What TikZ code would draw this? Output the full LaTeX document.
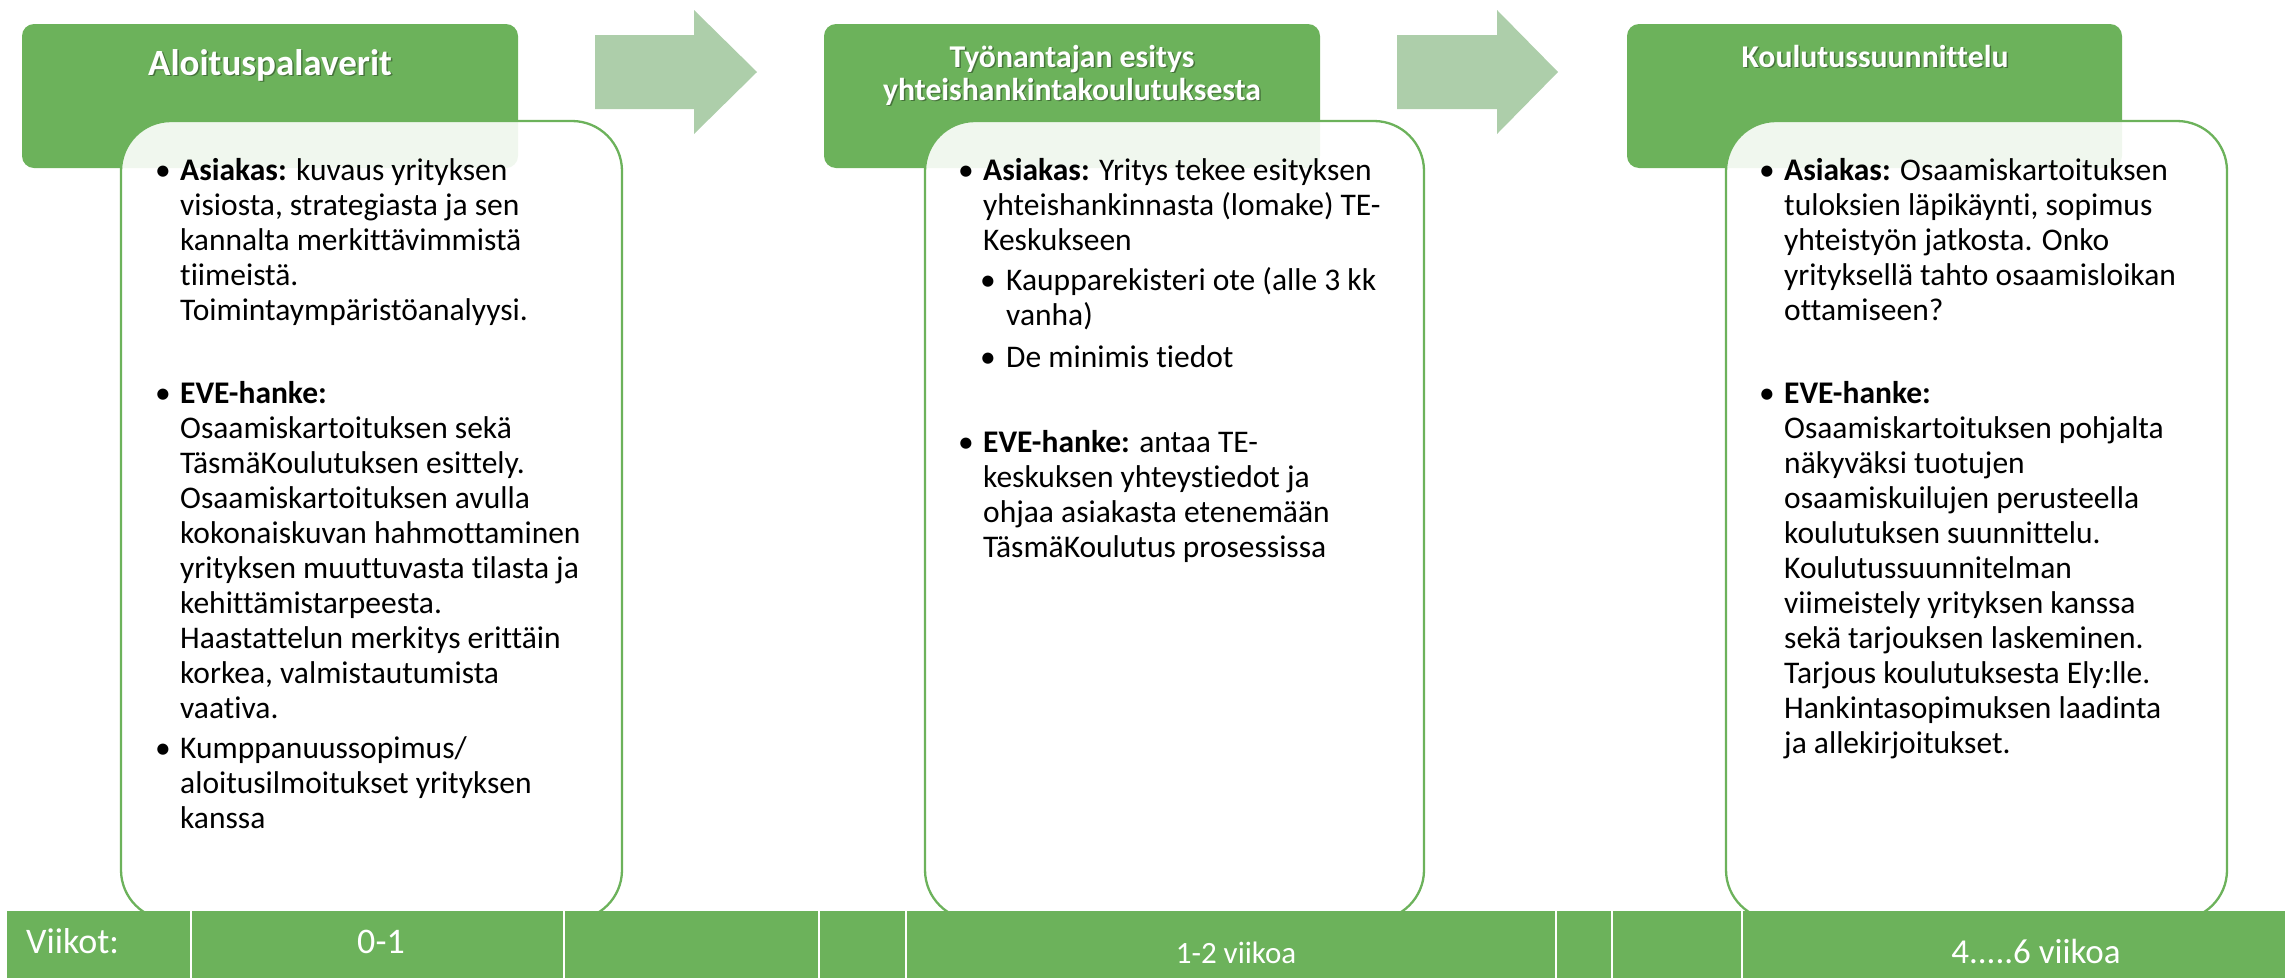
\documentclass[tikz,border=0pt]{standalone}
\usepackage{fontspec}
\setmainfont{Carlito}[Ligatures=NoCommon]
\definecolor{grn}{RGB}{108,178,91}
\definecolor{lgrn}{RGB}{173,206,170}
\newcommand{\ml}[1]{\vtop{\baselineskip=35pt\lineskiplimit=-100pt\lineskip=0pt #1}}
\tikzset{
  hdr/.style={fill=grn, rounded corners=12pt},
  card/.style={fill=white, fill opacity=0.9, draw=grn, line width=2.3pt, rounded corners=50pt},
  parr/.style={fill=lgrn},
  body/.style={anchor=base west, inner sep=0pt, font=\fontsize{31.5}{35}\selectfont},
  bul/.style={anchor=base, inner sep=0pt, font=\fontsize{31.5}{35}\selectfont},
  ttl/.style={anchor=base, inner sep=0pt, text=white, font=\bfseries\fontsize{31.7}{33}\selectfont},
  shd/.style={anchor=base, inner sep=0pt, text=black, opacity=0.35, font=\bfseries\fontsize{31.7}{33}\selectfont},
  barsep/.style={draw=white, line width=2.5pt},
  bartxt/.style={anchor=base, inner sep=0pt, text=white}
}
\begin{document}
\begin{tikzpicture}[x=1pt,y=-1pt]
\useasboundingbox (0,0) rectangle (2285,978);
% headers
\fill[hdr] (22,24) rectangle (518,168);
\fill[hdr] (824,24) rectangle (1320,168);
\fill[hdr] (1627,24) rectangle (2122,168);
% header titles
\node[shd, font=\bfseries\fontsize{37}{40}\selectfont] (t1s) at (271.5,76.5) {Aloituspalaverit};
\node[ttl, font=\bfseries\fontsize{37}{40}\selectfont] (t1) at (270,75) {Aloituspalaverit};
\node[shd] (t2as) at (1073.5,68.5) {Työnantajan esitys};
\node[ttl] (t2a) at (1072,67) {Työnantajan esitys};
\node[shd] (t2bs) at (1073.5,101.5) {yhteishankintakoulutuksesta};
\node[ttl] (t2b) at (1072,100) {yhteishankintakoulutuksesta};
\node[shd] (t3s) at (1876.5,68.5) {Koulutussuunnittelu};
\node[ttl] (t3) at (1875,67) {Koulutussuunnittelu};
% arrows
\fill[parr] (595,35) -- (694,35) -- (694,10) -- (757,72) -- (694,134) -- (694,109) -- (595,109) -- cycle;
\fill[parr] (1397,35) -- (1497,35) -- (1497,10) -- (1558,72) -- (1497,134) -- (1497,109) -- (1397,109) -- cycle;
% cards
\path[card] (121,121) rectangle (622,920);
\path[card] (925,121) rectangle (1424,920);
\path[card] (1726,121) rectangle (2227,920);
% column 1 text
\node[bul] (b11) at (163,180) {•};
\node[body] (p11) at (180,180) {\ml{\hbox{\textbf{Asiakas:} kuvaus yrityksen}\hbox{visiosta, strategiasta ja sen}\hbox{kannalta merkittävimmistä}\hbox{tiimeistä.}\hbox{Toimintaympäristöanalyysi.}}};
\node[bul] (b12) at (163,403) {•};
\node[body] (p12) at (180,403) {\ml{\hbox{\textbf{EVE-hanke:}}\hbox{Osaamiskartoituksen sekä}\hbox{TäsmäKoulutuksen esittely.}\hbox{Osaamiskartoituksen avulla}\hbox{kokonaiskuvan hahmottaminen}\hbox{yrityksen muuttuvasta tilasta ja}\hbox{kehittämistarpeesta.}\hbox{Haastattelun merkitys erittäin}\hbox{korkea, valmistautumista}\hbox{vaativa.}}};
\node[bul] (b13) at (163,758) {•};
\node[body] (p13) at (180,758) {\ml{\hbox{Kumppanuussopimus/}\hbox{aloitusilmoitukset yrityksen}\hbox{kanssa}}};
% column 2 text
\node[bul] (b21) at (966,180) {•};
\node[body] (p21) at (983,180) {\ml{\hbox{\textbf{Asiakas:} Yritys tekee esityksen}\hbox{yhteishankinnasta (lomake) TE-}\hbox{Keskukseen}}};
\node[bul] (b22) at (988,290) {•};
\node[body] (p22) at (1006,290) {\ml{\hbox{Kaupparekisteri ote (alle 3 kk}\hbox{vanha)}}};
\node[bul] (b23) at (988,367) {•};
\node[body] (p23) at (1006,367) {De minimis tiedot};
\node[bul] (b24) at (966,452) {•};
\node[body] (p24) at (983,452) {\ml{\hbox{\textbf{EVE-hanke:} antaa TE-}\hbox{keskuksen yhteystiedot ja}\hbox{ohjaa asiakasta etenemään}\hbox{TäsmäKoulutus prosessissa}}};
% column 3 text
\node[bul] (b31) at (1767,180) {•};
\node[body] (p31) at (1784,180) {\ml{\hbox{\textbf{Asiakas:} Osaamiskartoituksen}\hbox{tuloksien läpikäynti, sopimus}\hbox{yhteistyön jatkosta. Onko}\hbox{yrityksellä tahto osaamisloikan}\hbox{ottamiseen?}}};
\node[bul] (b32) at (1767,403) {•};
\node[body] (p32) at (1784,403) {\ml{\hbox{\textbf{EVE-hanke:}}\hbox{Osaamiskartoituksen pohjalta}\hbox{näkyväksi tuotujen}\hbox{osaamiskuilujen perusteella}\hbox{koulutuksen suunnittelu.}\hbox{Koulutussuunnitelman}\hbox{viimeistely yrityksen kanssa}\hbox{sekä tarjouksen laskeminen.}\hbox{Tarjous koulutuksesta Ely:lle.}\hbox{Hankintasopimuksen laadinta}\hbox{ja allekirjoitukset.}}};
% bottom bar
\fill[grn] (7,911) rectangle (2285,978);
\foreach \sx in {191,564,819,906,1556,1612,1742}{
  \draw[barsep] (\sx,911) -- (\sx,978);
}
\node[anchor=base west, inner sep=0pt, text=white, font=\fontsize{36}{40}\selectfont] (w0) at (26,953) {Viikot:};
\node[bartxt, font=\fontsize{36}{40}\selectfont] (w1) at (381,953) {0-1};
\node[bartxt, font=\fontsize{31}{35}\selectfont] (w2) at (1236,963) {1-2 viikoa};
\node[bartxt, font=\fontsize{35}{38}\selectfont] (w3) at (2036,963) {4.....6 viikoa};
\end{tikzpicture}
\end{document}
